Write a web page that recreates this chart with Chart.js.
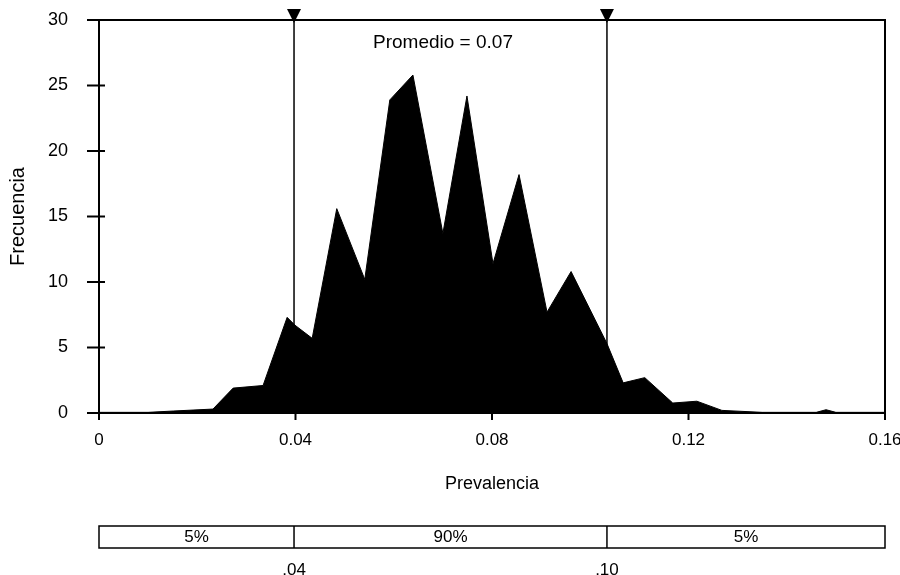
<!DOCTYPE html>
<html>
<head>
<meta charset="utf-8">
<script src="https://cdn.jsdelivr.net/npm/chart.js@4/dist/chart.umd.min.js"></script>
<style>
  html, body { margin: 0; padding: 0; background: #fff; }
  #wrap { width: 900px; height: 575px; position: relative; }
</style>
</head>
<body>
<div id="wrap"><canvas id="histograma" width="900" height="575"></canvas></div>
<script>
    const prevalencia = [0, 0.010, 0.0151, 0.0232, 0.0273, 0.0334, 0.0383, 0.0399, 0.0434, 0.0484, 0.0541, 0.0592, 0.0639, 0.0700,
        0.0749, 0.0802, 0.0855, 0.0912, 0.0961, 0.1034, 0.1067, 0.1111, 0.1168, 0.1217, 0.1268, 0.1350, 0.1460, 0.1480, 0.1500, 0.1600];
    const frecuencia = [0.05, 0.05, 0.15, 0.3, 1.9, 2.1, 7.3, 6.7, 5.7, 15.6, 10.2, 23.9, 25.8, 13.7,
        24.2, 11.4, 18.2, 7.7, 10.8, 5.3, 2.3, 2.7, 0.76, 0.9, 0.2, 0.05, 0.05, 0.25, 0.05, 0.05];

    const xTickLabels = ['0', '0.04', '0.08', '0.12', '0.16'];
    const yTickLabels = ['0', '5', '10', '15', '20', '25', '30'];

    const cortes = [0.0397, 0.1034];           // percentiles 5% y 95%
    const cortesLabels = ['.04', '.10'];
    const bandLabels = ['5%', '90%', '5%'];
    const promedioText = 'Promedio = 0.07';

    const FONT = 'Liberation Sans, Arial, sans-serif';

    const decoPlugin = {
        id: 'deco',
        afterDraw(chart) {
            const ctx = chart.ctx;
            const area = chart.chartArea;
            const xs = chart.scales.x;
            const ys = chart.scales.y;
            ctx.save();
            ctx.strokeStyle = '#000';
            ctx.fillStyle = '#000';

            // marco
            ctx.lineWidth = 2;
            ctx.strokeRect(area.left, area.top, area.right - area.left, area.bottom - area.top);

            // marcas eje y (cruzan el eje)
            ys.ticks.forEach((t) => {
                const py = ys.getPixelForValue(t.value);
                ctx.beginPath();
                ctx.moveTo(area.left - 12, py);
                ctx.lineTo(area.left + 6, py);
                ctx.stroke();
            });
            // marcas eje x
            xs.ticks.forEach((t) => {
                const px = xs.getPixelForValue(t.value);
                ctx.beginPath();
                ctx.moveTo(px, area.bottom);
                ctx.lineTo(px, area.bottom + 7);
                ctx.stroke();
            });

            // lineas de percentiles con triangulos
            ctx.lineWidth = 1.5;
            cortes.forEach((c) => {
                const px = xs.getPixelForValue(c);
                ctx.beginPath();
                ctx.moveTo(px, area.top);
                ctx.lineTo(px, area.bottom);
                ctx.stroke();
                ctx.beginPath();
                ctx.moveTo(px - 7, area.top - 11);
                ctx.lineTo(px + 7, area.top - 11);
                ctx.lineTo(px, area.top + 3);
                ctx.closePath();
                ctx.fill();
            });

            // promedio
            ctx.font = '19px ' + FONT;
            ctx.textAlign = 'center';
            ctx.textBaseline = 'middle';
            ctx.fillText(promedioText, 443, area.top + 23);

            // barra de intervalos
            const edges = [xs.min].concat(cortes, [xs.max]);
            const top = 526, bottom = 548;
            ctx.font = '17px ' + FONT;
            ctx.lineWidth = 1.5;
            ctx.strokeRect(xs.getPixelForValue(xs.min), top, xs.getPixelForValue(xs.max) - xs.getPixelForValue(xs.min), bottom - top);
            for (let i = 0; i < bandLabels.length; i++) {
                const a = xs.getPixelForValue(edges[i]);
                const b = xs.getPixelForValue(edges[i + 1]);
                if (i > 0) {
                    ctx.beginPath();
                    ctx.moveTo(a, top);
                    ctx.lineTo(a, bottom);
                    ctx.stroke();
                }
                ctx.fillText(bandLabels[i], (a + b) / 2, (top + bottom) / 2);
            }
            cortes.forEach((c, i) => {
                ctx.fillText(cortesLabels[i], xs.getPixelForValue(c), 570);
            });
            ctx.restore();
        }
    };

    const ctx = document.getElementById('histograma').getContext('2d');
    const myChart = new Chart(ctx, {
        type: 'line',
        data: {
            datasets: [{
                data: prevalencia.map((x, i) => ({x: x, y: frecuencia[i]})),
                fill: 'origin',
                backgroundColor: '#000',
                borderColor: '#000',
                borderWidth: 1,
                pointRadius: 0,
                tension: 0
            }]
        },
        options: {
            responsive: false,
            animation: false,
            layout: {
                padding: {top: 20, right: 15, bottom: 80, left: 0}
            },
            plugins: {
                legend: {display: false},
                tooltip: {enabled: false}
            },
            scales: {
                x: {
                    type: 'linear',
                    min: 0,
                    max: 0.16,
                    border: {display: false},
                    grid: {display: false},
                    afterFit: (scale) => {
                        scale.height = 82;
                        scale.paddingLeft = 0;
                        scale.paddingRight = 0;
                    },
                    ticks: {
                        stepSize: 0.04,
                        padding: 9,
                        color: '#000',
                        font: {family: FONT, size: 17},
                        maxRotation: 0,
                        callback: (value, index) => xTickLabels[index]
                    },
                    title: {
                        display: true,
                        text: 'Prevalencia',
                        color: '#000',
                        padding: 0,
                        font: {family: FONT, size: 18}
                    }
                },
                y: {
                    min: 0,
                    max: 30,
                    border: {display: false},
                    grid: {display: false},
                    afterFit: (scale) => {
                        scale.width = 99;
                        scale.paddingTop = 0;
                        scale.paddingBottom = 0;
                    },
                    ticks: {
                        stepSize: 5,
                        padding: 23,
                        color: '#000',
                        font: {family: FONT, size: 18},
                        callback: (value, index) => yTickLabels[index]
                    },
                    title: {
                        display: true,
                        text: 'Frecuencia',
                        color: '#000',
                        padding: {top: 6, bottom: 0},
                        font: {family: FONT, size: 20}
                    }
                }
            }
        },
        plugins: [decoPlugin]
    });
</script>
</body>
</html>
